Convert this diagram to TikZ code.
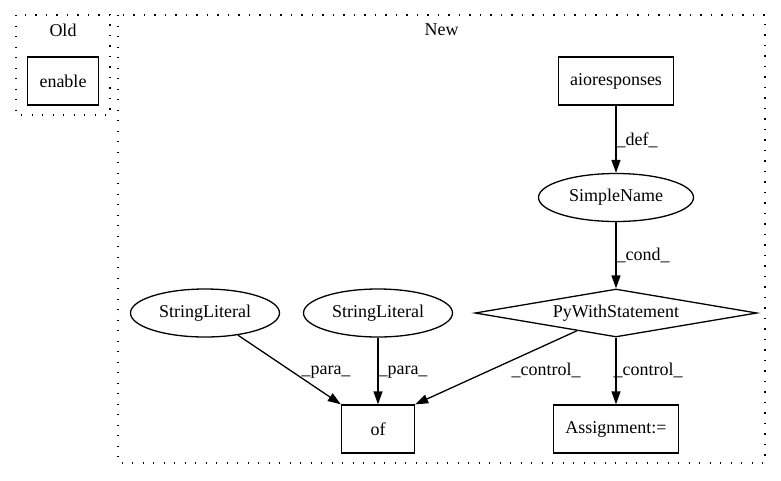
\documentclass[tikz,border=0pt]{standalone}
\usepackage{fontspec}
\setmainfont{Liberation Serif}
\usetikzlibrary{arrows.meta,shapes.geometric}
\tikzset{
	box/.style={draw, line width=1.3pt, rectangle, inner sep=0pt, minimum height=48pt},
	oval/.style={draw, line width=1.3pt, ellipse, inner sep=0pt, minimum height=48pt},
	cond/.style={draw, line width=1.3pt, diamond, aspect=5.875, inner sep=0pt, minimum width=282pt, minimum height=48pt},
	cluster/.style={line width=1.3pt, dash pattern=on 1.3pt off 9.2pt},
	edge/.style={line width=1.3pt, -{Triangle[length=13pt,width=9pt]}},
	lbl/.style={inner sep=0pt}
}

\begin{document}
\begin{tikzpicture}[x=1pt, y=-1pt, font=\fontsize{18}{20}\selectfont]
		%%%%% START %%%%%
		\useasboundingbox (0, 0) rectangle (781, 480);
		
		\draw[cluster] (16, 15) rectangle (110, 115);
		\node (old) at (63, 30) {Old};
		\node[box, minimum width=71pt] (enable) at (63, 81) {enable};
		
		\draw[cluster] (118, 15) rectangle (765, 463);
		\node (new) at (441.5, 30) {New};
		
		\node[box, minimum width=115pt] (aio) at (616, 81) {aioresponses};
		\node[oval, minimum width=155pt] (sn) at (616, 197.5) {SimpleName};
		\node[cond] (pws) at (616, 313) {PyWithStatement};
		\node[oval, minimum width=149pt] (sl1) at (205, 313) {StringLiteral};
		\node[oval, minimum width=149pt] (sl2) at (378, 313) {StringLiteral};
		\node[box, minimum width=73pt] (of) at (378, 429) {of};
		\node[box, minimum width=125pt] (asg) at (616, 429) {Assignment:=};
		
		\draw[edge] (aio) -- (sn);
		\node[lbl] (ldef) at (637, 140) {\_def\_};
		\draw[edge] (sn) -- (pws);
		\node[lbl] (lcond) at (643, 255) {\_cond\_};
		
		\draw[edge] (sl1) -- (of.north west);
		\node[lbl] (lpara1) at (326, 372) {\_para\_};
		\draw[edge] (sl2) -- (of);
		\node[lbl] (lpara2) at (403, 372) {\_para\_};
		
		\draw[edge] (pws) -- (of.north east);
		\node[lbl] (lctrl1) at (546, 370) {\_control\_};
		\draw[edge] (pws) -- (asg);
		\node[lbl] (lctrl2) at (648, 370) {\_control\_};
		
		%%%%% END %%%%%
	\end{tikzpicture}
\end{document}
